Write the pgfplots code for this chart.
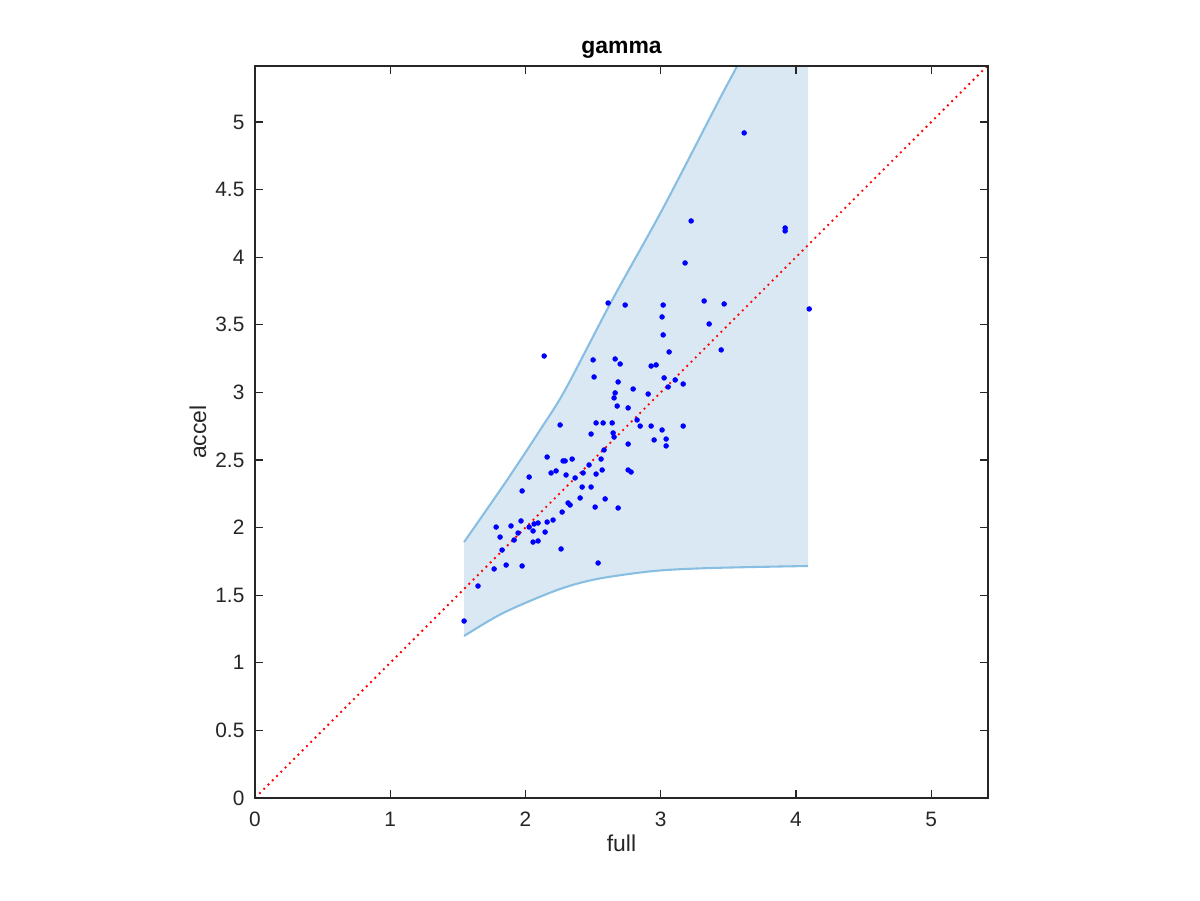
\documentclass[border=0pt]{standalone}
\usepackage{fontspec}
\setmainfont{Liberation Sans}
\usepackage{pgfplots}
\usepackage{pgfplotstable}
\usepgfplotslibrary{fillbetween}
\pgfplotsset{compat=1.18}
\definecolor{axgray}{RGB}{38,38,38}
\definecolor{bandfill}{RGB}{217,232,243}
\definecolor{bandedge}{RGB}{136,190,226}
\pgfplotstableread{
x y
3.617 4.919
3.225 4.268
3.920 4.216
3.920 4.194
3.180 3.957
2.611 3.661
2.737 3.646
3.018 3.646
3.321 3.676
3.469 3.654
4.098 3.617
3.010 3.558
3.358 3.506
3.018 3.425
3.062 3.299
3.447 3.314
2.138 3.269
2.500 3.240
2.663 3.247
2.700 3.210
2.929 3.195
2.966 3.203
2.507 3.114
3.025 3.107
3.107 3.092
2.685 3.077
3.166 3.062
3.055 3.040
2.796 3.025
2.663 2.996
2.907 2.988
2.655 2.959
2.678 2.899
2.759 2.885
2.825 2.796
2.256 2.759
2.522 2.774
2.574 2.774
2.641 2.774
2.848 2.751
2.929 2.751
3.166 2.751
3.010 2.722
2.485 2.692
2.648 2.700
2.655 2.670
2.951 2.648
3.040 2.655
2.759 2.618
3.040 2.604
2.581 2.574
2.160 2.522
2.278 2.493
2.293 2.493
2.345 2.507
2.559 2.507
2.470 2.463
2.567 2.426
2.759 2.426
2.781 2.411
2.189 2.404
2.226 2.419
2.300 2.389
2.426 2.404
2.367 2.367
2.522 2.396
2.027 2.374
2.419 2.300
2.485 2.300
1.975 2.271
2.404 2.219
2.589 2.212
2.315 2.182
2.330 2.167
2.515 2.152
2.685 2.145
2.271 2.115
2.204 2.056
2.160 2.041
2.093 2.034
2.064 2.027
1.967 2.049
1.893 2.012
1.783 2.004
2.027 2.004
2.145 1.967
2.056 1.975
1.945 1.960
1.812 1.930
1.916 1.908
2.056 1.893
2.093 1.901
1.827 1.834
2.263 1.842
1.768 1.694
1.857 1.723
1.975 1.716
2.537 1.738
1.649 1.568
1.546 1.309
}\pts
\begin{document}
\begin{tikzpicture}
\begin{axis}[name=ax, at={(0,0)}, anchor=south west,
  scale only axis, width=351.84pt, height=351.36pt,
  xmin=0, xmax=5.42, ymin=0, ymax=5.414,
  xtick={0,1,2,3,4,5},
  ytick={0,0.5,1,1.5,2,2.5,3,3.5,4,4.5,5},
  tick align=inside, major tick length=4pt,
  axis line style={axgray, line width=0.6pt},
  every tick/.style={axgray, line width=0.6pt},
  tick label style={font=\fontsize{10}{12}\selectfont, text=axgray},
  /pgf/number format/assume math mode=true,
  xticklabel style={inner sep=0pt, anchor=north, yshift=-6.7pt},
  yticklabel style={inner sep=0pt, anchor=east, xshift=-4.9pt},
  every axis title shift=0pt,
  title={gamma},
  title style={font=\fontsize{11}{13}\selectfont\bfseries, at={(axis description cs:0.5,1.0176)}, anchor=base, inner sep=0pt},
  xlabel={full},
  xlabel style={font=\fontsize{11}{13}\selectfont, text=axgray, at={(axis description cs:0.5,-0.0737)}, anchor=base, inner sep=0pt},
  ylabel={accel},
  ylabel style={font=\fontsize{11}{13}\selectfont, text=axgray, at={(axis description cs:-0.0668,0.5)}, anchor=base, inner sep=0pt},
  axis on top,
]
\addplot[name path=up, bandedge, line width=1pt, smooth] coordinates {
  (1.546,1.893) (1.864,2.352) (2.108,2.722) (2.293,3.018)
  (2.641,3.683) (3.010,4.349) (3.432,5.163) (3.565,5.414)
  (3.75,5.78) (4.09,5.78)
};
\addplot[name path=lo, bandedge, line width=1pt, smooth] coordinates {
  (1.546,1.198) (1.834,1.368) (2.234,1.538) (2.530,1.620) (2.951,1.679)
  (3.373,1.701) (4.090,1.716)
};
\addplot[bandfill, draw=none] fill between[of=up and lo];
\addplot[only marks, mark=*, mark size=1.1pt, blue, mark options={fill=blue, draw=blue}] table[x=x, y=y] {\pts};
\addplot[red, line width=0.9pt, dash pattern=on 0.9pt off 2pt] coordinates {(0,0) (5.42,5.42)};
\end{axis}
\pgfresetboundingbox
\useasboundingbox (-122.4pt,-48.96pt) rectangle (453.6pt,383.04pt);
\end{tikzpicture}
\end{document}
